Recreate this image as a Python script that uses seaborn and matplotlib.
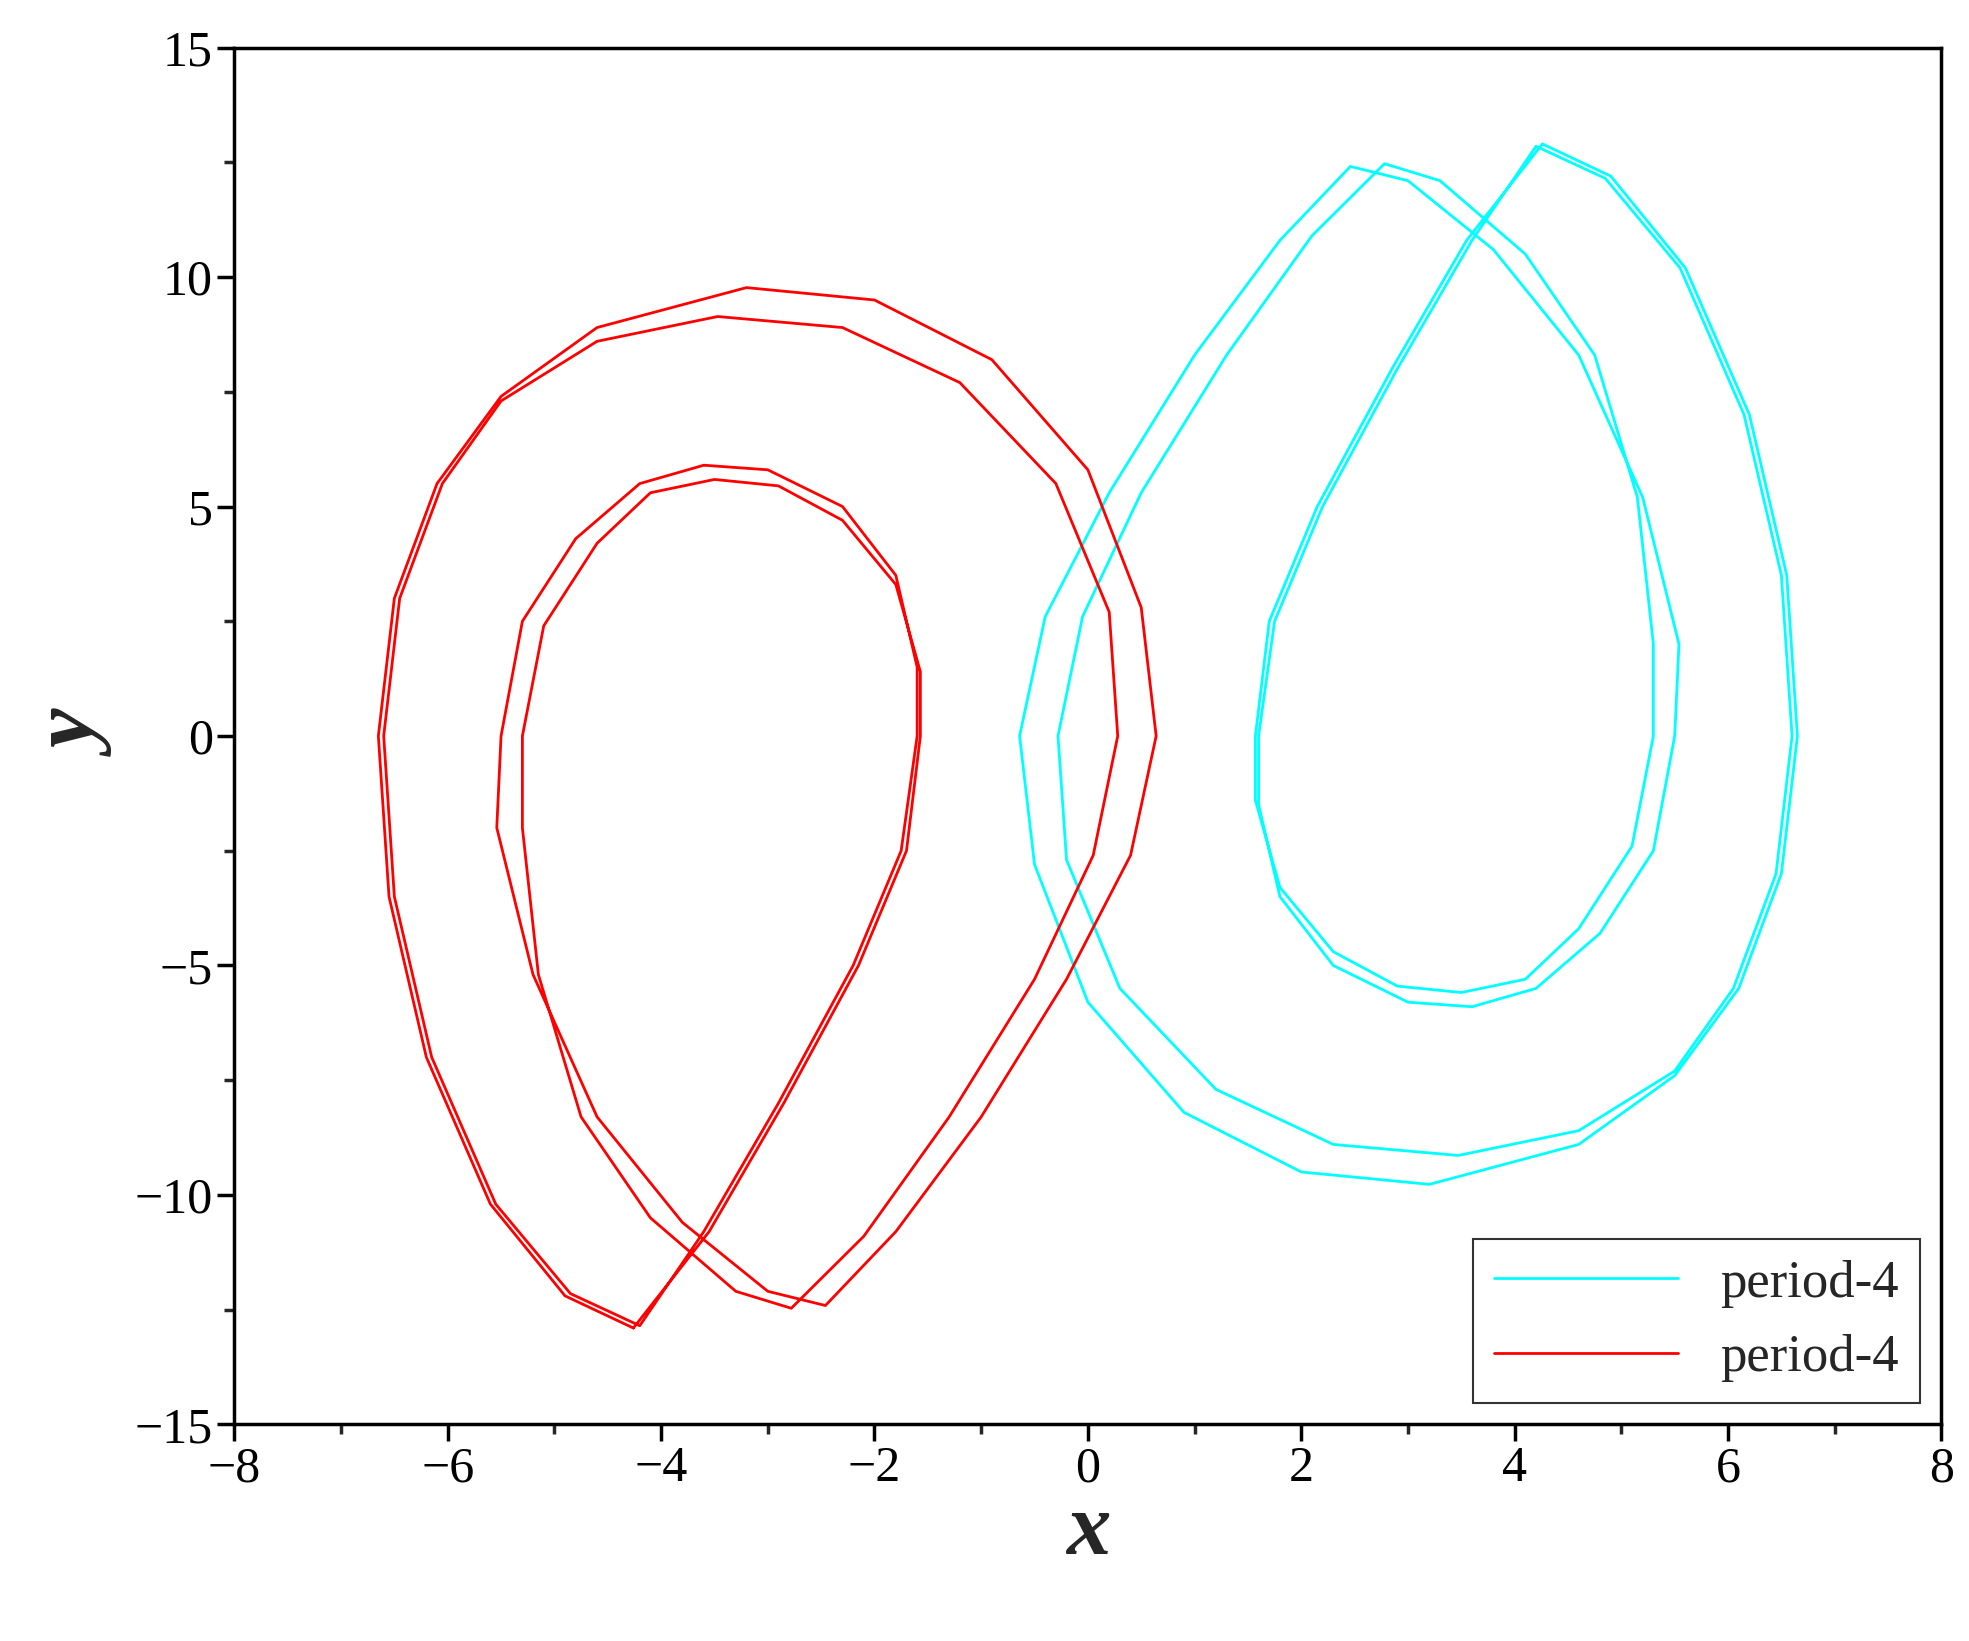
import matplotlib
matplotlib.use("Agg")
import matplotlib.pyplot as plt
import seaborn as sns
import pandas as pd
from matplotlib.ticker import MultipleLocator

cyan_x = [4.26,4.9,5.6,6.2,6.55,6.65,6.5,6.1,5.5,4.6,3.2,2.0,0.9,0.0,-0.5,-0.64,-0.4,0.2,1.0,1.8,2.46,3.0,3.8,4.6,5.2,5.54,5.5,5.3,4.8,4.2,3.6,3.0,2.3,1.8,1.6,1.6,1.75,2.2,2.9,3.6,
          4.2,4.85,5.55,6.15,6.5,6.6,6.45,6.05,5.5,4.6,3.47,2.3,1.2,0.3,-0.2,-0.28,-0.05,0.5,1.3,2.1,2.78,3.3,4.1,4.75,5.15,5.3,5.3,5.1,4.6,4.1,3.5,2.9,2.3,1.8,1.57,1.57,1.7,2.15,2.85,3.55,4.26]
cyan_y = [12.9,12.2,10.2,7.0,3.5,0,-3,-5.5,-7.4,-8.9,-9.77,-9.5,-8.2,-5.8,-2.8,0,2.6,5.3,8.3,10.8,12.41,12.1,10.6,8.3,5.2,2,0,-2.5,-4.3,-5.5,-5.9,-5.8,-5.0,-3.5,-1.5,0,2.5,5.0,8.0,10.8,
          12.85,12.15,10.2,7.0,3.5,0,-3,-5.5,-7.3,-8.6,-9.14,-8.9,-7.7,-5.5,-2.7,0,2.6,5.3,8.3,10.9,12.47,12.1,10.5,8.3,5.2,2,0,-2.4,-4.2,-5.3,-5.59,-5.45,-4.7,-3.3,-1.4,0,2.5,5.0,8.0,10.8,12.9]
# red attractor is the point-symmetric twin of the cyan one
red_x = [-v for v in cyan_x]
red_y = [-v for v in cyan_y]
labels = ["period-4", "period-4"]

sns.set_theme(style="ticks")
plt.rcParams['font.family'] = ['Liberation Serif', 'DejaVu Serif']
plt.rcParams['mathtext.fontset'] = 'stix'

fig = plt.figure(figsize=(19.69, 16.41), dpi=100)
ax = fig.add_axes([0.119, 0.132, 0.867, 0.839])
df_c = pd.DataFrame({"x": cyan_x, "y": cyan_y})
df_r = pd.DataFrame({"x": red_x, "y": red_y})
sns.lineplot(data=df_c, x="x", y="y", sort=False, estimator=None, color="#00FFFF", lw=2, ax=ax, label=labels[0])
sns.lineplot(data=df_r, x="x", y="y", sort=False, estimator=None, color="#FF0000", lw=2, ax=ax, label=labels[1])

ax.set_xlim(-8, 8)
ax.set_ylim(-15, 15)
ax.xaxis.set_major_locator(MultipleLocator(2))
ax.xaxis.set_minor_locator(MultipleLocator(1))
ax.yaxis.set_major_locator(MultipleLocator(5))
ax.yaxis.set_minor_locator(MultipleLocator(2.5))
ax.tick_params(which="major", length=12, width=2.5, labelsize=36, direction="out", colors="black")
ax.tick_params(which="minor", length=7, width=2.5, direction="out")
for s in ax.spines.values():
    s.set_linewidth(2.5)
    s.set_color("black")
ax.set_xlabel("x", fontsize=64, fontweight="bold", style="italic", labelpad=0)
ax.set_ylabel("y", fontsize=64, fontweight="bold", style="italic", labelpad=10)
leg = ax.legend(loc="lower right", fontsize=38, frameon=True, fancybox=False, borderaxespad=0.4,
                handlelength=3.5, edgecolor="black")
leg.get_frame().set_linewidth(1.5)
fig.savefig("out.png", dpi=100, facecolor="white")
